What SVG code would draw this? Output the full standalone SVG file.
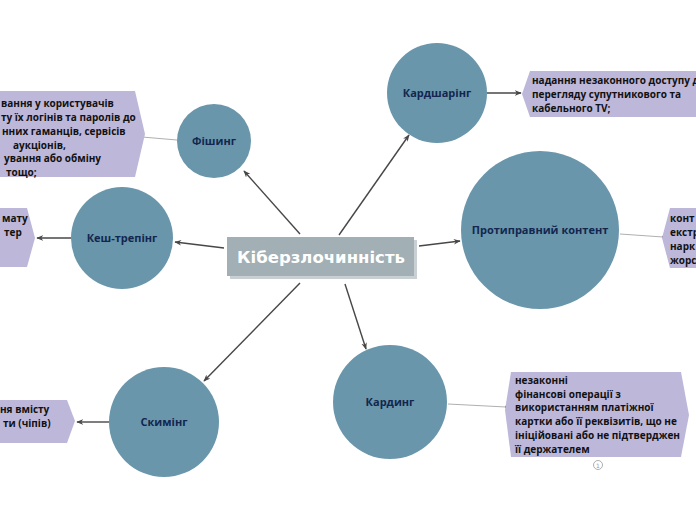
<svg xmlns="http://www.w3.org/2000/svg" width="696" height="520" viewBox="0 0 696 520">
<defs>
<marker id="arr" viewBox="0 0 10 10" refX="9" refY="5" markerWidth="7" markerHeight="7" orient="auto" markerUnits="userSpaceOnUse">
<path d="M0,1 L10,5 L0,9 L3,5 Z" fill="#474747"/>
</marker>
<marker id="dot" viewBox="0 0 4 4" refX="2" refY="2" markerWidth="3" markerHeight="3" orient="auto" markerUnits="userSpaceOnUse">
<circle cx="2" cy="2" r="1.5" fill="#777"/>
</marker>
<style>
.c{fill:#6996ab}
.cl{font-family:"Open Sans","Noto Sans",sans-serif;font-weight:bold;font-size:11px;fill:#13264f;text-anchor:middle}
.b{fill:#bdb7da}
.bt{font-family:"Open Sans","Noto Sans",sans-serif;font-weight:bold;font-size:10px;fill:#111}
.a{stroke:#474747;stroke-width:1.4;fill:none}
.t{stroke:#9a9a9a;stroke-width:0.8;fill:none}
</style>
</defs>
<rect width="696" height="520" fill="#ffffff"/>

<g id="connectors">
<line class="a" x1="300" y1="234" x2="244" y2="171" marker-end="url(#arr)"/>
<line class="a" x1="339" y1="235" x2="409" y2="135" marker-end="url(#arr)"/>
<line class="a" x1="419" y1="246" x2="460" y2="241" marker-end="url(#arr)"/>
<line class="a" x1="224" y1="248" x2="175" y2="242" marker-end="url(#arr)"/>
<line class="a" x1="300" y1="283" x2="204" y2="381" marker-end="url(#arr)"/>
<line class="a" x1="345" y1="284" x2="366" y2="349" marker-end="url(#arr)"/>
<line class="a" x1="487" y1="93" x2="521" y2="93" marker-end="url(#arr)"/>
<line class="a" x1="71" y1="238" x2="37" y2="238" marker-end="url(#arr)"/>
<line class="a" x1="109" y1="422" x2="77" y2="422" marker-end="url(#arr)"/>
<line class="t" x1="177" y1="140" x2="142" y2="137" marker-end="url(#dot)"/>
<line class="t" x1="620" y1="234" x2="663" y2="237" marker-end="url(#dot)"/>
<line class="t" x1="448" y1="404" x2="506" y2="407" marker-end="url(#dot)"/>
</g>

<g id="center">
<rect x="230" y="240" width="187" height="39" fill="#c9d0d4"/>
<rect x="227" y="237" width="187" height="39" fill="#a2afb5"/>
<text x="321" y="263" text-anchor="middle" font-family="DejaVu Sans,Verdana,sans-serif" font-weight="bold" font-size="16.5" fill="#ffffff">Кіберзлочинність</text>
</g>

<g id="fishing">
<circle class="c" cx="214" cy="141" r="37"/>
<text class="cl" x="214" y="145">Фішинг</text>
</g>
<g id="fishing-note">
<polygon class="b" points="-5,91 135,91 145,134 135,177 -5,177"/>
<text class="bt" x="1" y="107">вання у користувачів</text>
<text class="bt" x="1" y="121">ту їх логінів та паролів до</text>
<text class="bt" x="2" y="135">нних гаманців, сервісів</text>
<text class="bt" x="13" y="149">аукціонів,</text>
<text class="bt" x="4" y="162">ування або обміну</text>
<text class="bt" x="6" y="176">тощо;</text>
</g>

<g id="cardsharing">
<circle class="c" cx="437" cy="93" r="50"/>
<text class="cl" x="437" y="97">Кардшарінг</text>
</g>
<g id="cardsharing-note">
<polygon class="b" points="530,71 700,71 700,117 530,117 522,94"/>
<text class="bt" x="532" y="84">надання незаконного доступу д</text>
<text class="bt" x="532" y="98">перегляду супутникового та</text>
<text class="bt" x="532" y="112">кабельного TV;</text>
</g>

<g id="content">
<circle class="c" cx="540" cy="230" r="79"/>
<text class="cl" x="540" y="234" font-size="10.5">Протиправний контент</text>
</g>
<g id="content-note">
<polygon class="b" points="670,208 700,208 700,268 670,268 662,238"/>
<text class="bt" x="670" y="222">конт</text>
<text class="bt" x="670" y="236">екстр</text>
<text class="bt" x="670" y="250">нарк</text>
<text class="bt" x="670" y="264">жорс</text>
</g>

<g id="cashtrapping">
<circle class="c" cx="122" cy="238" r="51"/>
<text class="cl" x="122" y="242">Кеш-трепінг</text>
</g>
<g id="cashtrapping-note">
<polygon class="b" points="-5,208 27,208 35,238 27,267 -5,267"/>
<text class="bt" x="2" y="222">мату</text>
<text class="bt" x="4" y="236">тер</text>
</g>

<g id="skimming">
<circle class="c" cx="164" cy="422" r="55"/>
<text class="cl" x="164" y="426">Скимінг</text>
</g>
<g id="skimming-note">
<polygon class="b" points="-5,400 67,400 75,421 67,443 -5,443"/>
<text class="bt" x="0" y="413">ня вмісту</text>
<text class="bt" x="3" y="427">ти (чіпів)</text>
</g>

<g id="carding">
<circle class="c" cx="390" cy="402" r="57"/>
<text class="cl" x="390" y="406">Кардинг</text>
</g>
<g id="carding-note">
<polygon class="b" points="511,372 681,372 689,415 681,457 511,457 505,410"/>
<text class="bt" x="515" y="384">незаконні</text>
<text class="bt" x="515" y="398">фінансові операції з</text>
<text class="bt" x="515" y="411">використанням платіжної</text>
<text class="bt" x="515" y="425">картки або її реквізитів, що не</text>
<text class="bt" x="515" y="439">ініційовані або не підтверджен</text>
<text class="bt" x="515" y="453">її держателем</text>
<circle cx="598" cy="465" r="4.5" fill="#ffffff" stroke="#999" stroke-width="0.8"/>
<text x="598" y="467.5" text-anchor="middle" font-family="DejaVu Sans,sans-serif" font-size="6" fill="#999">1</text>
</g>
</svg>
